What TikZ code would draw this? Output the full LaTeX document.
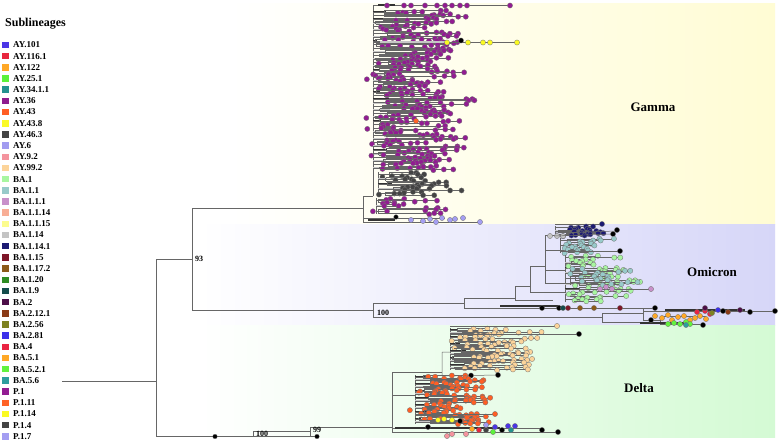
\documentclass[tikz,border=0pt]{standalone}
\usepackage{fontspec}
\setmainfont{Liberation Serif}
\usetikzlibrary{positioning}

\definecolor{ay101}{HTML}{4B35E6}
\definecolor{ay1161}{HTML}{E8263E}
\definecolor{ay122}{HTML}{FFA826}
\definecolor{ay251}{HTML}{5CF23A}
\definecolor{ay3411}{HTML}{24928F}
\definecolor{ay36}{HTML}{8E1C8E}
\definecolor{ay43}{HTML}{FF5E24}
\definecolor{ay438}{HTML}{FAFA28}
\definecolor{ay463}{HTML}{434343}
\definecolor{ay6}{HTML}{A29CF0}
\definecolor{ay92}{HTML}{F4949E}
\definecolor{ay992}{HTML}{FCD49A}
\definecolor{ba1}{HTML}{A8F6A0}
\definecolor{ba11}{HTML}{98CACA}
\definecolor{ba111}{HTML}{C890CA}
\definecolor{ba1114}{HTML}{F8AE96}
\definecolor{ba1115}{HTML}{FCFC8E}
\definecolor{ba114}{HTML}{C4C4C4}
\definecolor{ba1141}{HTML}{1C1A72}
\definecolor{ba115}{HTML}{7E1628}
\definecolor{ba1172}{HTML}{8C5A18}
\definecolor{ba120}{HTML}{2E8C22}
\definecolor{ba19}{HTML}{144C4C}
\definecolor{ba2}{HTML}{4C0E48}
\definecolor{ba2121}{HTML}{8A3A16}
\definecolor{ba256}{HTML}{7E8220}
\definecolor{ba281}{HTML}{3C30EA}
\definecolor{ba4}{HTML}{EA2442}
\definecolor{ba51}{HTML}{FFA826}
\definecolor{ba521}{HTML}{62F23E}
\definecolor{ba56}{HTML}{2E9E9E}
\definecolor{p1}{HTML}{921C92}
\definecolor{p111}{HTML}{FF6226}
\definecolor{p114}{HTML}{FAFA22}
\definecolor{p14}{HTML}{444444}
\definecolor{p17}{HTML}{A49EF2}
\definecolor{gamband}{HTML}{FFFCD4}
\definecolor{omiband}{HTML}{D6D6F8}
\definecolor{delband}{HTML}{D4FAD4}

\tikzset{
  branch/.style={draw=black!60, line width=0.5pt},
  bundle/.style={line width=1.3pt, black!80},
  haze/.style={line width=1.8pt, gray!45},
  leaf/.style={fill=#1, draw=black!55, line width=0.3pt},
  boot/.style={anchor=west, inner sep=0pt, font=\bfseries\fontsize{8}{8}\selectfont},
  clade name/.style={font=\bfseries\fontsize{13}{13}\selectfont},
  swatch/.style={minimum size=6.5pt, inner sep=0pt},
  legtext/.style={inner sep=0pt, font=\bfseries\fontsize{9}{9}\selectfont},
}

% spine x, top y, bottom y, groups, reach, colour
\newcommand\clade[6]{%
  \draw[branch] (#1,#2) -- (#1,#3);
  \foreach \g in {1,...,#4}{
    \pgfmathsetmacro\gh{(#3-#2)/#4}
    \pgfmathsetmacro\gy{#2+(\g-0.5)*\gh}
    \pgfmathsetmacro\gx{#1+2+14*rnd}
    \ifodd\g \draw[bundle] (#1,\gy) -- (\gx+6*rnd,\gy);
    \else \draw[haze] (#1,\gy) -- (\gx+10*rnd,\gy); \fi
    \draw[branch] (#1,\gy) -- (\gx,\gy) (\gx,\gy-0.35*\gh) -- (\gx,\gy+0.35*\gh);
    \foreach \k in {0,1,2}{
      \pgfmathsetmacro\ly{\gy+(\k-1)*0.35*\gh}
      \pgfmathsetmacro\lx{\gx+8+#5*rnd}
      \pgfmathsetmacro\mx{\lx-5-10*rnd}
      \pgfmathsetmacro\nx{\mx-4-12*rnd}
      \pgfmathtruncatemacro\extra{rnd>0.45}
      \draw[branch] (\gx,\ly) -- (\lx,\ly);
      \path[leaf=#6] (\mx,\ly) circle (2.6pt) (\lx,\ly) circle (2.6pt);
      \ifnum\extra=1 \path[leaf=#6] (\nx,\ly+0.2*\gh) circle (2.6pt); \fi
    }
  }
}

\begin{document}
\begin{tikzpicture}[x=1pt, y=-1pt]
  \pgfmathsetseed{11}
  \useasboundingbox[fill=white] (0,0) rectangle (780,442);

  % clade bands
  \shade[left color=white, right color=gamband] (230,3) rectangle (775,224);
  \shade[left color=white, right color=omiband] (200,224) rectangle (775,325);
  \shade[left color=white, right color=delband] (200,325) rectangle (775,437);

  % backbone
  \coordinate (stub) at (62,381);
  \coordinate (root) at (156,381);
  \coordinate (n93) at (192,259);
  \coordinate (gam) at (363,208);
  \coordinate (omi) at (373,310);
  \coordinate (n100) at (253,436);
  \coordinate (n99) at (310,431);
  \coordinate (del) at (392,427);
  \draw[branch] (stub) -- (root);
  \draw[branch] (root) |- (n93);
  \draw[branch] (root) |- (n100);
  \draw[branch] (n93) |- (gam);
  \draw[branch] (n93) |- (omi);
  \draw[branch] (n100) |- (n99) (n100) -- (317,436);
  \draw[branch] (310,427) -- (310,436) (310,427) -- (del);
  \path[leaf=black] (215,436.5) circle (2.3pt) (317,436.5) circle (2.3pt);

  % Gamma
  \draw[branch] (363,196) -- (363,222) (363,196) -- (373,196);
  \draw[branch] (373,5) -- (373,196);
  \clade{373}{10}{170}{44}{78}{p1}
  \clade{378}{172}{196}{5}{70}{p14}
  \clade{376}{198}{214}{3}{60}{p1}
  \draw[branch] (373,5) -- (510,5);
  \draw[bundle] (378,5) -- (395,5);
  \foreach \px in {387,404,411,425,437,445,452,460,467,510}
    \path[leaf=p1] (\px,5.5) circle (2.6pt);
  \draw[branch] (373,42) -- (517,42);
  \draw[haze] (380,42) -- (445,42);
  \foreach \px in {447,468,483,490,517}
    \path[leaf=p114] (\px,42.5) circle (2.6pt);
  \path[leaf=black] (461,40.5) circle (2.6pt);
  \path[leaf=p111] (416,121) circle (2.6pt);
  \draw[branch] (363,218) -- (445,218) (363,222) -- (481,222);
  \draw[bundle] (368,220) -- (395,220);
  \foreach \px/\py in {423/221,430/219,436/222,442/218,450/220,455/219,463/218,480/222,411/220}
    \path[leaf=p17] (\px,\py) circle (2.6pt);
  \path[leaf=black] (396,217) circle (2.3pt);

  % Omicron
  \draw[branch] (373,303) -- (373,317) (373,303) -- (464,303);
  \draw[branch] (464,298) -- (464,308) (464,298) -- (515,298);
  \draw[branch] (515,286) -- (515,300) (515,300) -- (553,300) (515,286) -- (530,286);
  \draw[branch] (530,266) -- (530,292) (530,292) -- (565,292) (530,266) -- (545,266);
  \draw[branch] (545,235) -- (545,283) (545,235) -- (555,235) (545,250) -- (560,250)
    (545,270) -- (565,270) (545,283) -- (633,283);
  \draw[branch] (555,224) -- (602,224);
  \clade{555}{226}{236}{3}{35}{ba1141}
  \path[leaf=ba1141] (602,224) circle (2.6pt);
  \path[leaf=ba114] (550,236) circle (2.6pt) (557,236) circle (2.6pt) (563,236) circle (2.6pt);
  \draw[branch] (555,233) -- (617,231) (555,236) -- (613,234);
  \path[leaf=black] (613,234) circle (2.6pt) (617,230) circle (2.6pt);
  \clade{560}{238}{253}{3}{50}{ba11}
  \draw[branch] (560,251) -- (620,251);
  \path[leaf=black] (620,251) circle (2.6pt);
  \clade{565}{255}{302}{9}{55}{ba1}
  \clade{570}{268}{285}{3}{55}{ba11}
  \draw[branch] (580,289) -- (651,289);
  \foreach \px/\py in {600/289,606/287,612/289,651/289}
    \path[leaf=ba111] (\px,\py) circle (2.6pt);
  \draw[branch] (464,308) -- (655,308);
  \draw[bundle] (500,306) -- (560,306);
  \foreach \px/\cl in {542/black,559/black,563/ba19,568/ba115,580/ba1172,594/ba1172,620/ba115,655/black}
    \path[leaf=\cl] (\px,308) circle (2.6pt);
  \draw[branch] (373,317) -- (602,317) (602,313) -- (602,322);
  \draw[branch] (602,313) -- (643,313) (643,309) -- (643,320) (643,311) -- (775,311);
  \draw[branch] (643,320) -- (660,320) (660,316) -- (660,324) (660,316) -- (706,316)
    (660,324) -- (703,324) (602,322) -- (651,322);
  \draw[bundle] (665,310) -- (745,310);
  \draw[bundle] (640,323) -- (690,323);
  \foreach \px/\py/\cl in {655/316/ba51,662/318/ba51,668/315/ba51,672/320/ba51,678/317/ba51,
      684/316/ba51,690/320/ba51,695/318/ba51,700/316/ba51,706/319/ba51,668/324/ba521,
      674/323/ba521,680/324/ba521,686/322/ba521,690/324/ba521,686/325/ba56,703/325/black,
      651/320/black,697/312/ba4,705/311/ba4,710/314/ba4,705/308/ba2,740/310/ba2,718/310/ba281,
      728/312/ba2121,712/313/ba256,723/311/black,750/312/black,775/311/black}
    \path[leaf=\cl] (\px,\py) circle (2.6pt);

  % Delta
  \draw[branch] (392,372) -- (392,432) (392,372) -- (442,372);
  \draw[branch] (442,352) -- (442,376) (442,352) -- (450,352) (442,376) -- (498,375);
  \clade{450}{328}{370}{12}{72}{ay992}
  \draw[branch] (450,334) -- (579,334) (450,326) -- (557,326);
  \path[leaf=ay992] (557,326) circle (2.6pt);
  \path[leaf=black] (579,334) circle (2.6pt) (471,375.5) circle (2.6pt) (498,375) circle (2.6pt);
  \draw[branch] (392,395) -- (415,395);
  \clade{415}{375}{424}{14}{55}{ay43}
  \draw[branch] (415,414) -- (495,414);
  \path[leaf=ay43] (495,414) circle (2.6pt);
  \draw[branch] (392,428) -- (540,428) (392,432) -- (558,432);
  \draw[bundle] (395,428) -- (500,428);
  \foreach \px/\py/\cl in {438/420/p114,444/419/p114,452/420/ay438,428/427/black,460/421/black,
      472/429/ay122,479/430/ay1161,486/430/ay463,486/425/ay6,495/427/ay101,508/426/ay101,
      515/426/ay101,511/430/ay3411,493/432/ay251,502/430/black,542/430/black,558/432/black,
      447/436/ay92,452/434/ay92,466/434/ay92}
    \path[leaf=\cl] (\px,\py) circle (2.6pt);

  % support values
  \node[boot, right=3pt of n93] (lb93) {93};
  \node[boot] (lb100o) at (377,312.5) {100};
  \node[boot] (lb100d) at (256,433.5) {100};
  \node[boot] (lb99) at (313,429.5) {99};

  % clade names
  \node[clade name] (gamma) at (653,107) {Gamma};
  \node[clade name] (omicron) at (712,272) {Omicron};
  \node[clade name] (delta) at (639,388) {Delta};

  % legend
  \node[font=\bfseries\fontsize{12}{12}\selectfont, anchor=west, inner sep=0pt] (legtitle) at (5,24) {Sublineages};
  \foreach \nm/\cl [count=\i from 0] in {AY.101/ay101, AY.116.1/ay1161, AY.122/ay122,
      AY.25.1/ay251, AY.34.1.1/ay3411, AY.36/ay36, AY.43/ay43, AY.43.8/ay438, AY.46.3/ay463,
      AY.6/ay6, AY.9.2/ay92, AY.99.2/ay992, BA.1/ba1, BA.1.1/ba11, BA.1.1.1/ba111,
      BA.1.1.14/ba1114, BA.1.1.15/ba1115, BA.1.14/ba114, BA.1.14.1/ba1141, BA.1.15/ba115,
      BA.1.17.2/ba1172, BA.1.20/ba120, BA.1.9/ba19, BA.2/ba2, BA.2.12.1/ba2121, BA.2.56/ba256,
      BA.2.81/ba281, BA.4/ba4, BA.5.1/ba51, BA.5.2.1/ba521, BA.5.6/ba56, P.1/p1, P.1.11/p111,
      P.1.14/p114, P.1.4/p14, P.1.7/p17}{
    \node[swatch, fill=\cl] (sw\i) at (5.5,45+11.18*\i) {};
    \node[legtext, right=4pt of sw\i] (lg\i) {\nm};
  }
\end{tikzpicture}
\end{document}
